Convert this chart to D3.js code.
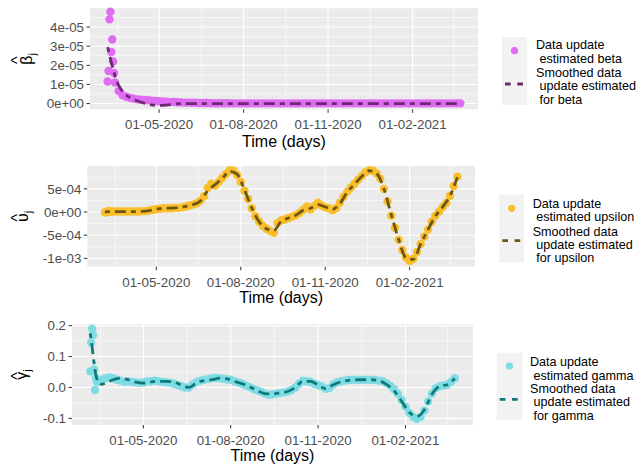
<!DOCTYPE html>
<meta charset="utf-8">
<style>

    body { margin: 0; background: #fff; }
    svg { display: block; font-family: "Liberation Sans", Arial, sans-serif; }
    .panel { fill: #ebebeb; }
    .grid-major { stroke: #fff; stroke-width: 1.1; }
    .grid-minor { stroke: #fff; stroke-width: 0.55; }
    .tick-mark { stroke: #333; stroke-width: 1; }
    .tick-label { fill: #4d4d4d; font-size: 13.3px; }
    .axis-title { fill: #000; font-size: 16px; }
    .legend-text { fill: #000; font-size: 12.6px; white-space: pre; }
    .legend-key { fill: #f2f2f2; }

</style>
<svg width="644" height="467"></svg>
<script src="https://d3js.org/d3.v7.min.js"></script>
<script>

    // days counted from the first observation
    var startDate = Date.UTC(2020, 2, 6);
    var pointDays = d3.range(0, 8).concat(d3.range(8, 385, 4));
    var smoothDays = [0, 2, 4, 6, 8, 12, 16, 20].concat(d3.range(24, 385, 8));

    var xTickDates = ["2020-05-01", "2020-08-01", "2020-11-01", "2021-02-01"];
    var xOuterDates = ["2020-02-01", "2021-05-01"];

    // beta, in units of 1e-5
    var betaPoints = [1.15, 1.7, 4.4, 4.8, 2.7, 3.35, 2.2, 1.6,
        1.1, 0.65, 0.45, 0.36, 0.3, 0.26, 0.22, 0.2, 0.19, 0.17,
        0.15, 0.13, 0.12, 0.11, 0.1, 0.09, 0.08, 0.07, 0.06, 0.05,
        0.05, 0.04, 0.04, 0.03, 0.03, 0.03, 0.02, 0.02, 0.02, 0.02,
        0.02, 0.02, 0.01, 0.01, 0.01, 0.01, 0.01, 0.01, 0.01, 0.01,
        0.01, 0.01, 0.01, 0.01, 0.01, 0.01, 0.01, 0.01, 0.01, 0.01,
        0.01, 0.01, 0.01, 0.01, 0.01, 0.01, 0.01, 0.01, 0.01, 0.01,
        0.01, 0.01, 0.01, 0.01, 0.01, 0.01, 0.01, 0.01, 0.01, 0.01,
        0.01, 0.01, 0.01, 0.01, 0.01, 0.01, 0.01, 0.01, 0.01, 0.01,
        0.01, 0.01, 0.01, 0.01, 0.01, 0.01, 0.01, 0.01, 0.01, 0.01,
        0.01, 0.01, 0.01, 0.01, 0.01];
    var betaSmooth = [2.95, 2.55, 2.15, 1.8, 1.45, 0.95, 0.65, 0.45,
        0.32, 0.15, 0.02, -0.07, -0.1, -0.08, -0.03, 0, 0, 0,
        0, 0, 0, 0, 0, 0, 0, 0, 0, 0, 0, 0, 0, 0, 0, 0, 0, 0,
        0, 0, 0, 0, 0, 0, 0, 0, 0, 0, 0, 0, 0, 0, 0, 0, 0, 0];
    var betaTicks = [0, 1e-5, 2e-5, 3e-5, 4e-5];
    var betaTickLabels = ["0e+00", "1e-05", "2e-05", "3e-05", "4e-05"];
    var betaLegend = ["Data update", " estimated beta", "Smoothed data", " update estimated", " for beta"];

    // upsilon, in units of 1e-4
    var upsilonPoints = [-0.1, 0, 0.05, 0.1, 0.1, 0.1, 0.1, 0.1,
        0.1, 0.1, 0.1, 0.1, 0.1, 0.1, 0.1, 0.1, 0.15, 0.2,
        0.3, 0.5, 0.6, 0.7, 0.8, 0.8, 0.8, 0.9, 0.9, 1.0,
        1.2, 1.4, 1.6, 1.9, 2.4, 3.4, 5.2, 6.1, 5.7, 6.5,
        7.4, 8.2, 9.0, 8.9, 8.0, 6.5, 4.6, 2.8, 0.8, -0.9,
        -2.1, -3.0, -3.6, -4.1, -4.5, -2.4, -1.8, -1.6, -1.3, -1.0,
        -0.7, -0.2, 0.5, 1.2, 0.6, 1.3, 2.0, 1.4, 1.0, 0.8,
        0.4, 0.8, 2.0, 3.3, 4.4, 5.3, 6.1, 7.0, 7.8, 8.6,
        9.0, 8.9, 8.3, 7.2, 5.0, 2.3, -0.8, -3.4, -6.0, -8.2,
        -9.8, -10.6, -10.1, -8.6, -6.9, -5.3, -3.8, -2.1, -0.8, 0.1,
        1.1, 2.0, 3.5, 5.6, 7.6];
    var upsilonSmooth = [0, 0.05, 0.1, 0.1, 0.1, 0.1, 0.1, 0.1,
        0.1, 0.1, 0.15, 0.3, 0.6, 0.8, 0.85, 0.95, 1.2, 1.6,
        2.4, 4.6, 5.9, 7.3, 8.8, 8.2, 4.8, 0.9, -2.1, -3.6,
        -4.0, -2.0, -1.3, -0.7, 0.4, 0.8, 1.6, 1.1, 0.6, 1.8,
        4.3, 6.0, 7.7, 8.9, 8.3, 5.0, -0.6, -5.9, -9.9, -10.2,
        -6.9, -3.8, -0.9, 1.1, 3.5, 7.5];
    var upsilonTicks = [-1e-3, -5e-4, 0, 5e-4];
    var upsilonTickLabels = ["-1e-03", "-5e-04", "0e+00", "5e-04"];
    var upsilonLegend = ["Data update", " estimated upsilon", "Smoothed data", " update estimated", " for upsilon"];

    // gamma
    var gammaPoints = [0.052, 0.145, 0.19, 0.17, 0.058, -0.008, 0.03, 0.018,
        0.02, 0.025, 0.03, 0.032, 0.03, 0.025, 0.022, 0.018, 0.02, 0.018,
        0.017, 0.015, 0.016, 0.02, 0.02, 0.022, 0.02, 0.018, 0.017, 0.015,
        0.012, 0.008, 0.004, 0, 0, 0.01, 0.018, 0.022, 0.025, 0.027,
        0.03, 0.031, 0.03, 0.028, 0.026, 0.025, 0.02, 0.016, 0.012, 0.006,
        0.001, -0.005, -0.01, -0.014, -0.02, -0.024, -0.022, -0.02, -0.018, -0.016,
        -0.013, -0.008, 0, 0.012, 0.022, 0.02, 0.018, 0.012, 0.008, 0.003,
        -0.004, -0.002, 0.01, 0.016, 0.02, 0.022, 0.024, 0.025, 0.025, 0.025,
        0.025, 0.025, 0.025, 0.024, 0.022, 0.02, 0.014, 0.006, -0.006, -0.02,
        -0.04, -0.062, -0.082, -0.095, -0.102, -0.096, -0.075, -0.045, -0.02, -0.002,
        0.004, 0.006, 0.009, 0.018, 0.03];
    var gammaSmooth = [0.175, 0.13, 0.08, 0.04, 0.02, 0.01, 0.015, 0.02,
        0.025, 0.03, 0.025, 0.017, 0.014, 0.018, 0.02, 0.02, 0.018, 0.008,
        0, 0.015, 0.022, 0.025, 0.03, 0.028, 0.02, 0.012, 0.002, -0.01,
        -0.02, -0.021, -0.017, -0.013, 0, 0.02, 0.02, 0.008, -0.004, 0.009,
        0.018, 0.023, 0.025, 0.025, 0.025, 0.022, 0.01, -0.01, -0.045, -0.08,
        -0.094, -0.072, -0.022, 0.004, 0.009, 0.029];
    var gammaTicks = [-0.1, 0, 0.1, 0.2];
    var gammaTickLabels = ["-0.1", "0.0", "0.1", "0.2"];
    var gammaLegend = ["Data update", " estimated gamma", "Smoothed data", " update estimated", " for gamma"];

    var svg = d3.select("svg");
    svg.append("rect").attr("width", 644).attr("height", 467).attr("fill", "#fff");

    var dayMs = 864e5;
    function dateOf(d) { return new Date(startDate + d * dayMs); }
    function parse(s) { return new Date(s + "T00:00:00Z"); }

    var span = d3.max(pointDays) - d3.min(pointDays);
    var xDomain = [dateOf(-0.05 * span), dateOf(d3.max(pointDays) + 0.05 * span)];
    var xMajor = xTickDates.map(parse);
    var xAll = [parse(xOuterDates[0])].concat(xMajor, [parse(xOuterDates[1])]);
    var xMinor = d3.pairs(xAll, function(a, b) { return new Date((+a + +b) / 2); })
        .filter(function(d) { return d >= xDomain[0] && d <= xDomain[1]; });

    var panels = [
        { points: betaPoints.map(function(v) { return v * 1e-5; }),
          smooth: betaSmooth.map(function(v) { return v * 1e-5; }),
          ticks: betaTicks, tickLabels: betaTickLabels, legend: betaLegend,
          dot: "#df6cf2", line: "#6b2a70", symbol: "β",
          left: 90, right: 478, top: 8.3, bottom: 109.3, yDomain: [-0.3e-5, 4.98e-5],
          titleX: 32, titleGap: 38,
          key: { x: 502, y: 37, w: 25, h: 68, dotY: 50.7, dashY: 84, textX: 536, lines: [44, 58.5, 72, 85.5, 99] } },
        { points: upsilonPoints.map(function(v) { return v * 1e-4; }),
          smooth: upsilonSmooth.map(function(v) { return v * 1e-4; }),
          ticks: upsilonTicks, tickLabels: upsilonTickLabels, legend: upsilonLegend,
          dot: "#f9be2a", line: "#6b5714", symbol: "υ",
          left: 87.3, right: 475, top: 166, bottom: 266.7, yDomain: [-11.8e-4, 9.93e-4],
          titleX: 28, titleGap: 36,
          key: { x: 499.3, y: 194.3, w: 24.7, h: 68.4, dotY: 208.3, dashY: 240.7, textX: 532.7, lines: [203.3, 216.7, 231, 244.3, 257.7] } },
        { points: gammaPoints, smooth: gammaSmooth,
          ticks: gammaTicks, tickLabels: gammaTickLabels, legend: gammaLegend,
          dot: "#80dce4", line: "#0d7a77", symbol: "γ",
          left: 72, right: 473, top: 324, bottom: 425, yDomain: [-0.1215, 0.2054],
          titleX: 27, titleGap: 36,
          key: { x: 496.7, y: 352.7, w: 25.6, h: 67.3, dotY: 366, dashY: 399.3, textX: 530, lines: [361, 375, 388.3, 401.7, 415] } }
    ];

    panels.forEach(function(p) {
        var x = d3.scaleUtc().domain(xDomain).range([p.left, p.right]);
        var y = d3.scaleLinear().domain(p.yDomain).range([p.bottom, p.top]);
        var g = svg.append("g");

        g.append("rect").attr("class", "panel")
            .attr("x", p.left).attr("y", p.top)
            .attr("width", p.right - p.left).attr("height", p.bottom - p.top);

        var step = p.ticks[1] - p.ticks[0];
        var yMinor = [p.ticks[0] - step / 2].concat(p.ticks.map(function(t) { return t + step / 2; }))
            .filter(function(v) { return v > p.yDomain[0] && v < p.yDomain[1]; });

        g.selectAll(".ymin").data(yMinor).enter().append("line").attr("class", "grid-minor")
            .attr("x1", p.left).attr("x2", p.right)
            .attr("y1", function(d) { return y(d); }).attr("y2", function(d) { return y(d); });
        g.selectAll(".xmin").data(xMinor).enter().append("line").attr("class", "grid-minor")
            .attr("y1", p.top).attr("y2", p.bottom)
            .attr("x1", function(d) { return x(d); }).attr("x2", function(d) { return x(d); });
        g.selectAll(".ymaj").data(p.ticks).enter().append("line").attr("class", "grid-major")
            .attr("x1", p.left).attr("x2", p.right)
            .attr("y1", function(d) { return y(d); }).attr("y2", function(d) { return y(d); });
        g.selectAll(".xmaj").data(xMajor).enter().append("line").attr("class", "grid-major")
            .attr("y1", p.top).attr("y2", p.bottom)
            .attr("x1", function(d) { return x(d); }).attr("x2", function(d) { return x(d); });

        // points
        g.selectAll(".pt").data(pointDays).enter().append("circle")
            .attr("cx", function(d) { return x(dateOf(d)); })
            .attr("cy", function(d, i) { return y(p.points[i]); })
            .attr("r", 4.2)
            .attr("fill", p.dot);

        // smoothed line
        var line = d3.line()
            .x(function(d) { return x(dateOf(d)); })
            .y(function(d, i) { return y(p.smooth[i]); })
            .curve(d3.curveMonotoneX);
        g.append("path").datum(smoothDays)
            .attr("d", line)
            .attr("fill", "none")
            .attr("stroke", p.line)
            .attr("stroke-width", 2.8)
            .attr("stroke-dasharray", "5,5,11,5");

        // axes
        g.selectAll(".xt").data(xMajor).enter().append("line").attr("class", "tick-mark")
            .attr("x1", function(d) { return x(d); }).attr("x2", function(d) { return x(d); })
            .attr("y1", p.bottom).attr("y2", p.bottom + 3.5);
        g.selectAll(".xl").data(xMajor).enter().append("text").attr("class", "tick-label")
            .attr("x", function(d) { return x(d); })
            .attr("y", p.bottom + 20)
            .attr("text-anchor", "middle")
            .text(d3.utcFormat("%d-%m-%Y"));
        g.selectAll(".yt").data(p.ticks).enter().append("line").attr("class", "tick-mark")
            .attr("x1", p.left - 3.5).attr("x2", p.left)
            .attr("y1", function(d) { return y(d); }).attr("y2", function(d) { return y(d); });
        g.selectAll(".yl").data(p.ticks).enter().append("text").attr("class", "tick-label")
            .attr("x", p.left - 6)
            .attr("y", function(d) { return y(d); })
            .attr("dy", "0.36em")
            .attr("text-anchor", "end")
            .text(function(d, i) { return p.tickLabels[i]; });

        g.append("text").attr("class", "axis-title")
            .attr("x", (p.left + p.right) / 2)
            .attr("y", p.bottom + p.titleGap)
            .attr("text-anchor", "middle")
            .text("Time (days)");

        var yt = g.append("g")
            .attr("transform", "translate(" + p.titleX + "," + (p.top + p.bottom) / 2 + ") rotate(-90)");
        var t = yt.append("text").attr("class", "axis-title").attr("text-anchor", "middle");
        t.append("tspan").text(p.symbol);
        t.append("tspan").attr("font-size", "11px").attr("dy", 4).text("j");
        yt.append("text").attr("class", "axis-title")
            .attr("font-size", "14px")
            .attr("x", -1.5)
            .attr("y", 22.7 - p.titleX)
            .attr("text-anchor", "middle")
            .text("^");

        // legend
        var k = p.key;
        g.append("rect").attr("class", "legend-key")
            .attr("x", k.x).attr("y", k.y).attr("width", k.w).attr("height", k.h);
        g.append("circle").attr("cx", k.x + k.w / 2).attr("cy", k.dotY).attr("r", 3.6).attr("fill", p.dot);
        g.append("line")
            .attr("x1", k.x + 3).attr("x2", k.x + 21.5)
            .attr("y1", k.dashY).attr("y2", k.dashY)
            .attr("stroke", p.line).attr("stroke-width", 2.8)
            .attr("stroke-dasharray", "5.7,6.6");
        g.selectAll(".lg").data(p.legend).enter().append("text").attr("class", "legend-text")
            .attr("x", k.textX)
            .attr("y", function(d, i) { return k.lines[i]; })
            .attr("dy", "0.36em")
            .text(function(d) { return d; });
    });

</script>
